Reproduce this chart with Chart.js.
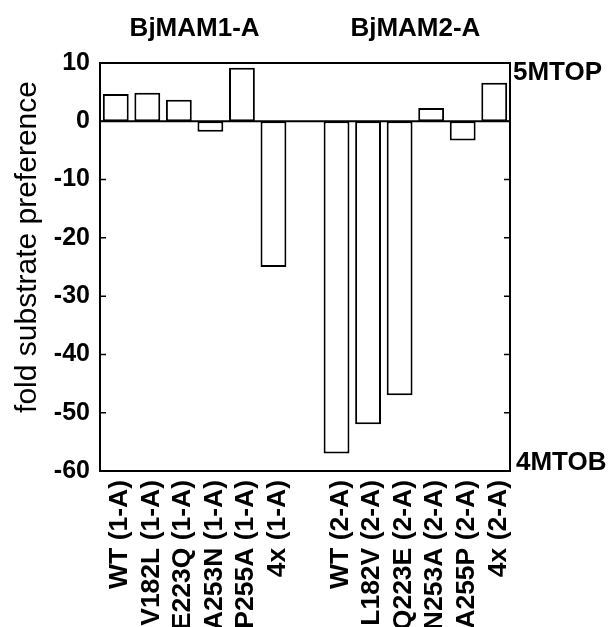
<!DOCTYPE html>
<html>
<head>
<meta charset="utf-8">
<script src="https://cdn.jsdelivr.net/npm/chart.js@4.4.0/dist/chart.umd.min.js"></script>
<style>html, body { margin: 0; padding: 0; background: #fff; }</style>
</head>
<body>
<div style="width:611px;height:627px"><canvas id="chart"></canvas></div>
<script>
// Data
const labels = ['WT (1-A)', 'V182L (1-A)', 'E223Q (1-A)', 'A253N (1-A)', 'P255A (1-A)', '4x (1-A)', '',
                'WT (2-A)', 'L182V (2-A)', 'Q223E (2-A)', 'N253A (2-A)', 'A255P (2-A)', '4x (2-A)'];
const values = [4.7, 4.9, 3.7, -1.8, 9.2, -25, null, -57, -52, -47, 2.3, -3.3, 6.6];
const groupTitles = ['BjMAM1-A', 'BjMAM2-A'];
const groupCenters = [2.5, 9.5];   // category index under each title
const sideLabels = ['5MTOP', '4MTOB'];
const yTitle = 'fold substrate preference';

const FONT = '"Liberation Sans", Arial, Helvetica, sans-serif';

// frame, zero line, inward ticks and extra labels
const decor = {
    id: 'decor',
    afterDatasetsDraw(chart) {
        const { ctx, chartArea: a, scales: { x, y } } = chart;
        ctx.save();
        ctx.strokeStyle = '#000';
        ctx.lineWidth = 2;
        ctx.strokeRect(a.left, a.top, a.right - a.left, a.bottom - a.top);

        const y0 = y.getPixelForValue(0);
        ctx.beginPath();
        ctx.moveTo(a.left, y0); ctx.lineTo(a.right, y0);
        ctx.stroke();

        ctx.lineWidth = 1.5;
        y.ticks.forEach(t => {
            const py = y.getPixelForValue(t.value);
            ctx.beginPath();
            ctx.moveTo(a.left, py); ctx.lineTo(a.left + 6, py);
            ctx.moveTo(a.right, py); ctx.lineTo(a.right - 6, py);
            ctx.stroke();
        });

        ctx.fillStyle = '#000';
        ctx.font = 'bold 26px ' + FONT;
        ctx.textAlign = 'center';
        ctx.textBaseline = 'middle';
        groupTitles.forEach((t, i) => {
            ctx.fillText(t, x.getPixelForValue(groupCenters[i]), a.top - 34);
        });

        ctx.textAlign = 'left';
        ctx.fillText(sideLabels[0], a.right + 3, a.top + 10);
        ctx.fillText(sideLabels[1], a.right + 6, a.bottom - 8);

        ctx.font = '30px ' + FONT;
        ctx.translate(28, (a.top + a.bottom) / 2 - 20);
        ctx.rotate(-Math.PI / 2);
        ctx.textAlign = 'center';
        ctx.fillText(yTitle, 0, 0);
        ctx.restore();
    }
};

new Chart(document.getElementById('chart'), {
    type: 'bar',
    data: {
        labels: labels,
        datasets: [{
            data: values,
            backgroundColor: '#fff',
            borderColor: '#000',
            borderWidth: 2,
            borderSkipped: false,
            barPercentage: 0.82,
            categoryPercentage: 1
        }]
    },
    options: {
        responsive: true,
        maintainAspectRatio: false,
        animation: false,
        layout: { padding: { top: 63, right: 101, left: 0, bottom: 0 } },
        plugins: { legend: { display: false }, tooltip: { enabled: false } },
        scales: {
            x: {
                grid: { display: false, drawTicks: false },
                border: { display: false },
                ticks: {
                    color: '#000',
                    font: { family: FONT, size: 26.5, weight: 'bold' },
                    minRotation: 90, maxRotation: 90,
                    autoSkip: false,
                    padding: 9,
                    labelOffset: 4
                },
                afterFit(s) { s.height = 156; }
            },
            y: {
                min: -60, max: 10,
                grid: { display: false, drawTicks: false },
                border: { display: false },
                ticks: {
                    stepSize: 10,
                    color: '#000',
                    font: { family: FONT, size: 25, weight: 'bold' },
                    padding: 10
                },
                afterFit(s) { s.width = 100; }
            }
        }
    },
    plugins: [decor]
});
</script>
</body>
</html>
